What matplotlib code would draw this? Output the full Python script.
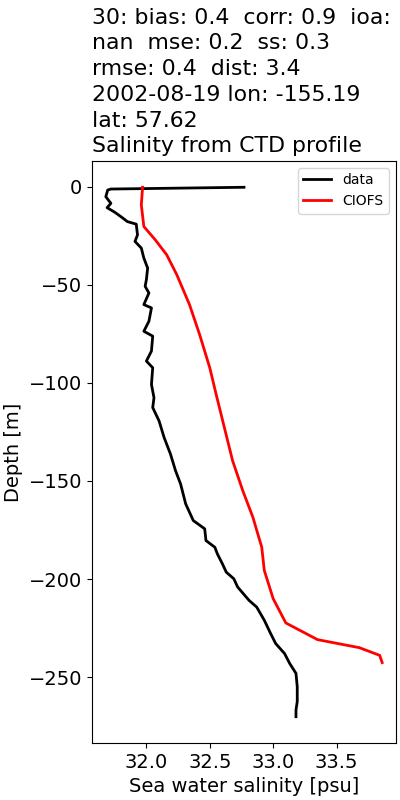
import numpy as np
from matplotlib import pyplot as plt

# CTD profile (salinity, depth)
data_sal = [32.77, 31.72, 31.695, 31.68, 31.72, 31.69, 31.75, 31.81, 31.85, 31.92,
            31.93, 31.91, 31.96, 31.98, 32.01, 32.00, 31.99, 32.02, 31.98, 32.04,
            32.02, 31.98, 32.05, 32.04, 32.00, 32.05, 32.04, 32.06, 32.05, 32.10,
            32.14, 32.19, 32.23, 32.27, 32.31, 32.37, 32.46, 32.47, 32.54, 32.56,
            32.60, 32.63, 32.69, 32.72, 32.81, 32.87, 32.93, 32.98, 33.02, 33.09,
            33.13, 33.18, 33.19, 33.19, 33.18, 33.18]
data_depth = [-0.3, -1.2, -1.7, -5.1, -8.5, -10.7, -13.0, -15.8, -17.8, -19.1,
              -24.6, -27.9, -31.3, -36.4, -41.5, -47.4, -50.8, -54.2, -60.1, -61.8,
              -68.6, -73.7, -76.2, -83.8, -88.9, -92.3, -100.8, -107.6, -112.6, -119.4,
              -127.9, -136.3, -144.8, -151.6, -161.7, -170.2, -174.4, -180.4, -183.8, -187.2,
              -192.3, -196.5, -199.9, -204.1, -210.9, -214.3, -221.0, -227.8, -232.9, -238.0,
              -243.0, -248.1, -254.9, -262.5, -266.8, -270.2]

# model profile
model_sal = [31.97, 31.96, 31.98, 32.07, 32.16, 32.24, 32.34, 32.42, 32.50, 32.55,
             32.68, 32.76, 32.84, 32.91, 32.93, 33.00, 33.10, 33.35, 33.68, 33.84, 33.86]
model_depth = [-0.3, -9.3, -20.3, -27.1, -34.7, -44.9, -60.1, -75.4, -92.3, -105.8,
               -139.7, -154.9, -168.5, -183.8, -195.6, -210.0, -222.4, -230.9, -235.0, -238.9,
               -242.6]

title = ("30: bias: 0.4  corr: 0.9  ioa:\n"
         "nan  mse: 0.2  ss: 0.3\n"
         "rmse: 0.4  dist: 3.4\n"
         "2002-08-19 lon: -155.19\n"
         "lat: 57.62\n"
         "Salinity from CTD profile")

fig, ax = plt.subplots(figsize=(4, 8), dpi=100)
fig.subplots_adjust(left=0.23, right=0.99, bottom=0.071, top=0.799)

ax.plot(data_sal, data_depth, color='k', lw=2, label='data')
ax.plot(model_sal, model_depth, color='r', lw=2, label='CIOFS')

ax.set_title(title, loc='left', fontsize=15.8, linespacing=1.36)
ax.set_xlabel('Sea water salinity [psu]', fontsize=14)
ax.set_ylabel('Depth [m]', fontsize=14)
ax.set_xticks([32.0, 32.5, 33.0, 33.5])
ax.tick_params(labelsize=14)
ax.legend(loc='upper right', fontsize=10)

plt.savefig('out.png')
